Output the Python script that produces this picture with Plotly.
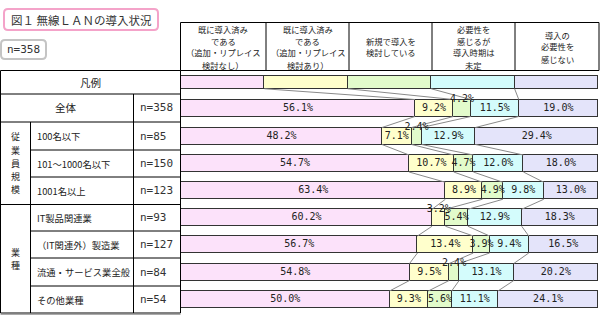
import plotly.graph_objects as go

# ---------------- data ----------------
categories = ["全体", "100名以下", "101～1000名以下", "1001名以上",
              "IT製品関連業", "（IT関連外）製造業", "流通・サービス業全般", "その他業種"]
n_labels = ["n=358", "n=85", "n=150", "n=123", "n=93", "n=127", "n=84", "n=54"]
series_names = ["既に導入済みである（追加・リプレイス検討なし）",
                "既に導入済みである（追加・リプレイス検討あり）",
                "新規で導入を検討している",
                "必要性を感じるが導入時期は未定",
                "導入の必要性を感じない"]
s_no_replace = [56.1, 48.2, 54.7, 63.4, 60.2, 56.7, 54.8, 50.0]
s_replace = [9.2, 7.1, 10.7, 8.9, 3.2, 13.4, 9.5, 9.3]
s_new = [4.2, 2.4, 4.7, 4.9, 5.4, 3.9, 2.4, 5.6]
s_undecided = [11.5, 12.9, 12.0, 9.8, 12.9, 9.4, 13.1, 11.1]
s_none = [19.0, 29.4, 18.0, 13.0, 18.3, 16.5, 20.2, 24.1]
legend_share = [20, 20, 20, 20, 20]
header_lines = [["既に導入済み", "である", "（追加・リプレイス", "検討なし）"],
                ["既に導入済み", "である", "（追加・リプレイス", "検討あり）"],
                ["新規で導入を", "検討している"],
                ["必要性を", "感じるが", "導入時期は", "未定"],
                ["導入の", "必要性を", "感じない"]]
group_names = ["従業員規模", "業種"]
group_rows = [[1, 2, 3], [4, 5, 6, 7]]
title_text = "図１ 無線ＬＡＮの導入状況"
total_n_text = "n=358"
legend_label = "凡例"

series = [s_no_replace, s_replace, s_new, s_undecided, s_none]

# ---------------- layout / style ----------------
W, H = 600, 324
colors = ["#FCE2FA", "#FFFFCC", "#E2FBCB", "#D4FCFC", "#E4E4FA"]
row_bounds = [70.5, 94, 122, 150, 177, 204.5, 231, 258, 286, 313]
centers = [(row_bounds[i] + row_bounds[i + 1]) / 2 for i in range(9)]
bar_h = [13] + [17] * 8
raised = {(0, 2), (1, 2), (4, 1), (6, 2)}
cjk = "Noto Sans CJK JP"
mono = "DejaVu Sans Mono"

fig = go.Figure()

# stacked bars (legend row + data rows)
for k in range(5):
    fig.add_trace(go.Bar(
        x=[legend_share[k]] + series[k], y=centers, width=bar_h,
        orientation="h", marker=dict(color=colors[k], line=dict(color="#333", width=1)),
        name=series_names[k], hoverinfo="skip", showlegend=False))

# connecting lines between bar boundaries
all_rows = [legend_share] + [[series[k][i] for k in range(5)] for i in range(8)]
cums = []
for vals in all_rows:
    c, acc = [], 0
    for v in vals[:4]:
        acc += v
        c.append(acc)
    cums.append(c)
lx, ly = [], []
for i in range(8):
    yb = centers[i] + bar_h[i] / 2
    yt = centers[i + 1] - bar_h[i + 1] / 2
    for j in range(4):
        lx += [cums[i][j], cums[i + 1][j], None]
        ly += [yb, yt, None]
fig.add_trace(go.Scatter(x=lx, y=ly, mode="lines", line=dict(color="#8a8a8a", width=1),
                         hoverinfo="skip", showlegend=False, cliponaxis=False))

# value labels
tx, ty, tt = [], [], []
for i in range(8):
    acc = 0
    for k in range(5):
        v = series[k][i]
        tx.append(acc + v / 2)
        ty.append(centers[i + 1] - (bar_h[i + 1] / 2 if (i, k) in raised else 0))
        tt.append(f"{v:.1f}%")
        acc += v
fig.add_trace(go.Scatter(x=tx, y=ty, text=tt, mode="text", textposition="middle center",
                         textfont=dict(family=mono, size=10, color="#222"),
                         hoverinfo="skip", showlegend=False, cliponaxis=False))

shapes = []
def line(x0, y0, x1, y1, color="#000", w=1):
    shapes.append(dict(type="line", xref="paper", yref="paper",
                       x0=x0 / W, x1=x1 / W, y0=1 - y0 / H, y1=1 - y1 / H,
                       line=dict(color=color, width=w)))

def rrect(x0, y0, x1, y1, r, color, w, fill="white"):
    X = lambda v: v / W
    Y = lambda v: 1 - v / H
    p = (f"M {X(x0+r)} {Y(y0)} L {X(x1-r)} {Y(y0)} Q {X(x1)} {Y(y0)} {X(x1)} {Y(y0+r)} "
         f"L {X(x1)} {Y(y1-r)} Q {X(x1)} {Y(y1)} {X(x1-r)} {Y(y1)} "
         f"L {X(x0+r)} {Y(y1)} Q {X(x0)} {Y(y1)} {X(x0)} {Y(y1-r)} "
         f"L {X(x0)} {Y(y0+r)} Q {X(x0)} {Y(y0)} {X(x0+r)} {Y(y0)} Z")
    shapes.append(dict(type="path", xref="paper", yref="paper", path=p,
                       line=dict(color=color, width=w), fillcolor=fill, layer="below"))

# header boxes
hx = [180.5, 266, 349, 432, 515, 599]
line(hx[0], 22.5, hx[-1], 22.5)
line(hx[0], 70.5, hx[-1], 70.5)
for x in hx:
    line(x, 22.5, x, 70.5)

# left table
L, C1, C2, R = 0.5, 30.5, 133.5, 180.5
line(L, 70.5, R, 70.5)
line(L, 313, R, 313)
line(L, 314.5, R, 314.5, color="#aaa")
line(L, 70.5, L, 313)
line(R, 70.5, R, 313)
for yb in [94, 122, 204.5]:
    line(L, yb, R, yb)
for yb in [150, 177, 231, 258, 286]:
    line(C1, yb, R, yb)
line(C2, 94, C2, 313)
line(C1, 122, C1, 313)

# title and n boxes
rrect(4, 9, 158, 30, 4, "#F4A3C9", 2)
rrect(1, 40, 46, 59, 4, "#C4C4C4", 2)

ann = []
def text(x, y, s, size=10, family=cjk, anchor="center", color="#222"):
    ann.append(dict(x=x / W, y=1 - y / H, xref="paper", yref="paper", text=s,
                    showarrow=False, xanchor=anchor, yanchor="middle", borderpad=0,
                    align="center", font=dict(family=family, size=size, color=color)))

text(81, 19.5, title_text, size=11.5, color="#333")
text(23.5, 49.5, total_n_text, size=11, family=mono, color="#333")

# header text: one annotation per line, spaced so the lines do not collide
hsize, hsp, hmid = 8.3, 12.0, 46.5
for c, lines in enumerate(header_lines):
    xc = (hx[c] + hx[c + 1]) / 2
    n = len(lines)
    for j, s in enumerate(lines):
        text(xc, hmid + (j - (n - 1) / 2) * hsp, s, size=hsize)

text(90, centers[0], legend_label, size=10.5)
text(66, centers[1], categories[0], size=10.5)
for i in range(8):
    text(139, centers[i + 1], n_labels[i], size=11, family=mono, anchor="left", color="#333")
for i in range(1, 8):
    text(36, centers[i + 1], categories[i], size=9.3, anchor="left")
for g, rows in enumerate(group_rows):
    yc = (row_bounds[rows[0] + 1] + row_bounds[rows[-1] + 2]) / 2
    chars = list(group_names[g])
    n = len(chars)
    for j, ch in enumerate(chars):
        text(15.5, yc + (j - (n - 1) / 2) * 13.2, ch, size=9)

fig.update_layout(
    width=W, height=H, margin=dict(l=0, r=0, t=0, b=0),
    paper_bgcolor="white", plot_bgcolor="rgba(0,0,0,0)",
    barmode="stack", bargap=0, showlegend=False,
    xaxis=dict(domain=[181 / W, 598 / W], range=[0, 100], visible=False, fixedrange=True),
    yaxis=dict(domain=[0, 1], range=[H, 0], visible=False, fixedrange=True),
    shapes=shapes, annotations=ann,
)
fig.write_html("out.html")
